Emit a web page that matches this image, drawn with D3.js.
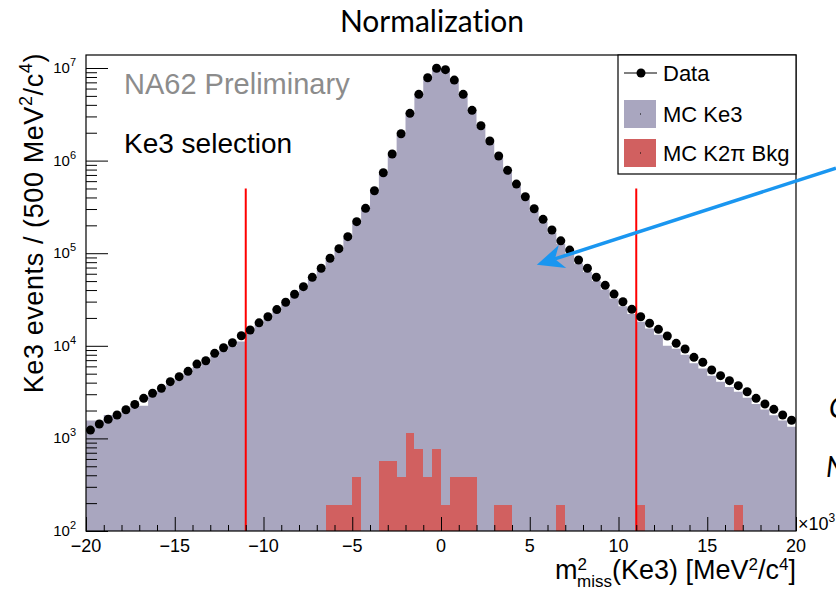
<!DOCTYPE html>
<html>
<head>
<meta charset="utf-8">
<script src="https://cdn.jsdelivr.net/npm/d3@7"></script>
<style>
  html, body { margin: 0; padding: 0; background: #fff; }
  svg { display: block; }
</style>
</head>
<body>
<svg id="chart" width="836" height="592"></svg>
<script>
// Missing-mass-squared histograms, 80 bins of 500 MeV^2/c^4 from -20e3 to 20e3
const binEdges = d3.range(-20, 20.0001, 0.5);

// Data (events per bin)
const dataCounts = [
  1230, 1430, 1610, 1790, 2040, 2330, 2710, 3070, 3480, 4100,
  4640, 5300, 6350, 6900, 8290, 9530, 10800, 12850, 14800, 17700,
  20600, 24600, 29500, 36000, 43500, 54900, 68700, 88100, 112000, 151000,
  219000, 305000, 473000, 740000, 1180000, 1950000, 3240000, 5200000, 7860000, 9930000,
  9600000, 7400000, 5200000, 3490000, 2380000, 1630000, 1120000, 785000, 558000, 407000,
  302000, 232000, 178000, 136000, 108000, 84500, 68700, 55000, 45000, 36200,
  29900, 24770, 20600, 17500, 15070, 12760, 10640, 9230, 7510, 6640,
  5480, 4760, 4200, 3710, 3190, 2710, 2350, 2060, 1790, 1570
];

// MC Ke3 prediction
const mcKe3 = [
  1560, 1560, 1790, 1780, 1980, 2250, 2250, 2900, 3300, 3850,
  4400, 5050, 5900, 6500, 7700, 8900, 10100, 11100, 14000, 16800,
  19600, 23500, 28200, 34500, 41800, 52500, 66000, 84500, 108000, 145000,
  210000, 294000, 455000, 715000, 1140000, 1890000, 3150000, 5050000, 7650000, 9700000,
  9400000, 7200000, 5050000, 3380000, 2300000, 1570000, 1070000, 750000, 530000, 385000,
  285000, 218000, 166000, 126000, 99500, 77500, 62500, 50000, 40500, 32500,
  26800, 22000, 18200, 15400, 13200, 10000, 9300, 8000, 6500, 5700,
  4750, 4100, 3600, 3200, 2750, 2350, 2050, 1780, 1560, 1340
];

// MC K2pi background
const mcK2pi = [
  0, 0, 0, 0, 0, 0, 0, 0, 0, 0,
  0, 0, 0, 0, 0, 0, 0, 0, 0, 0,
  0, 0, 0, 0, 0, 0, 0, 190, 190, 190,
  385, 0, 0, 575, 575, 385, 1150, 770, 385, 770,
  190, 385, 385, 385, 0, 0, 190, 190, 0, 0,
  0, 0, 0, 190, 0, 0, 0, 0, 0, 0,
  0, 0, 190, 0, 0, 0, 0, 0, 0, 0,
  0, 0, 0, 190, 0, 0, 0, 0, 0, 0
];

const xMajorTicks = [-20, -15, -10, -5, 0, 5, 10, 15, 20];
const xTickLabels = ["\u221220", "\u221215", "\u221210", "\u22125", "0", "5", "10", "15", "20"];
const yDecades = [1e2, 1e3, 1e4, 1e5, 1e6, 1e7];
const yExponents = ["2", "3", "4", "5", "6", "7"];
const cutValues = [-11, 11];
const cutRange = [1e2, 5e5];

const legendItems = [
  { label: "Data", kind: "marker" },
  { label: "MC Ke3", kind: "box", color: "#a9a6bf" },
  { label: "MC K2\u03c0 Bkg", kind: "box", color: "#d16060" }
];

const colKe3 = "#a9a6bf";
const colK2pi = "#d16060";
const rootFont = "'Liberation Sans', Arial, Helvetica, sans-serif";

const svg = d3.select("#chart");
const plot = { left: 86, right: 796, top: 55, bottom: 531 };

const x = d3.scaleLinear().domain([-20, 20]).range([plot.left, plot.right]);
const y = d3.scaleLog().domain([100, 1.382e7]).range([plot.bottom, plot.top]);

// slide title
svg.append("text")
  .attr("x", 432).attr("y", 32)
  .attr("text-anchor", "middle")
  .attr("font-family", "Lato, 'Open Sans', sans-serif")
  .attr("font-size", 30)
  .style("font-variant-ligatures", "none")
  .attr("fill", "#000")
  .text("Normalization");

const g = svg.append("g").attr("font-family", rootFont);

g.append("defs").append("clipPath").attr("id", "plotClip")
  .append("rect")
  .attr("x", plot.left).attr("y", plot.top)
  .attr("width", plot.right - plot.left).attr("height", plot.bottom - plot.top);

const inner = g.append("g").attr("clip-path", "url(#plotClip)");

// MC Ke3 filled histogram as one stepped area
const stepPts = [];
mcKe3.forEach((v, i) => {
  stepPts.push([binEdges[i], v]);
  stepPts.push([binEdges[i + 1], v]);
});
inner.append("path")
  .datum(stepPts)
  .attr("fill", colKe3)
  .attr("d", d3.area()
    .x(d => x(d[0]))
    .y0(plot.bottom)
    .y1(d => y(d[1])));

// MC K2pi background bins
inner.selectAll("rect.k2pi")
  .data(mcK2pi.map((v, i) => ({ v, lo: binEdges[i], hi: binEdges[i + 1] })).filter(d => d.v > 0))
  .join("rect")
  .attr("class", "k2pi")
  .attr("x", d => x(d.lo))
  .attr("width", d => x(d.hi) - x(d.lo))
  .attr("y", d => y(d.v))
  .attr("height", d => plot.bottom - y(d.v))
  .attr("fill", colK2pi)
  .attr("shape-rendering", "crispEdges");

// selection cuts
inner.selectAll("line.cut")
  .data(cutValues)
  .join("line")
  .attr("class", "cut")
  .attr("x1", d => x(d)).attr("x2", d => x(d))
  .attr("y1", y(cutRange[0])).attr("y2", y(cutRange[1]))
  .attr("stroke", "#ff0000")
  .attr("stroke-width", 2);

// data points
inner.selectAll("circle.data")
  .data(dataCounts.map((v, i) => ({ v, c: (binEdges[i] + binEdges[i + 1]) / 2 })))
  .join("circle")
  .attr("class", "data")
  .attr("cx", d => x(d.c))
  .attr("cy", d => y(d.v))
  .attr("r", 4.5)
  .attr("fill", "#000");

// x axis: major and minor ticks pointing inside
const xMinor = d3.range(-20, 20.0001, 1).filter(v => v % 5 !== 0);
g.append("g")
  .attr("transform", `translate(0,${plot.bottom})`)
  .call(d3.axisBottom(x).tickValues(xMinor).tickSize(-6).tickFormat(""))
  .call(s => s.select(".domain").remove())
  .call(s => s.selectAll("line").attr("stroke", "#000"));
g.append("g")
  .attr("transform", `translate(0,${plot.bottom})`)
  .call(d3.axisBottom(x).tickValues(xMajorTicks).tickSize(-14).tickFormat(""))
  .call(s => s.select(".domain").remove())
  .call(s => s.selectAll("line").attr("stroke", "#000"));

g.selectAll("text.xlab")
  .data(xMajorTicks)
  .join("text")
  .attr("class", "xlab")
  .attr("x", d => x(d))
  .attr("y", 552)
  .attr("text-anchor", "middle")
  .attr("font-size", 18)
  .text((d, i) => xTickLabels[i]);

// y axis: decades and minor ticks
const yMinor = [];
yDecades.forEach(dec => {
  for (let k = 2; k <= 9; k++) {
    const v = dec * k;
    if (v <= y.domain()[1]) yMinor.push(v);
  }
});
g.append("g")
  .attr("transform", `translate(${plot.left},0)`)
  .call(d3.axisLeft(y).tickValues(yMinor).tickSize(-11).tickFormat(""))
  .call(s => s.select(".domain").remove())
  .call(s => s.selectAll("line").attr("stroke", "#000"));
g.append("g")
  .attr("transform", `translate(${plot.left},0)`)
  .call(d3.axisLeft(y).tickValues(yDecades).tickSize(-22).tickFormat(""))
  .call(s => s.select(".domain").remove())
  .call(s => s.selectAll("line").attr("stroke", "#000"));

const ylab = g.selectAll("text.ylab")
  .data(yDecades)
  .join("text")
  .attr("class", "ylab")
  .attr("x", 76)
  .attr("y", d => y(d) + 5)
  .attr("text-anchor", "end")
  .attr("font-size", 15);
ylab.append("tspan").text("10");
ylab.append("tspan").attr("font-size", 11).attr("dy", -7).text((d, i) => yExponents[i]);

// frame
g.append("rect")
  .attr("x", plot.left).attr("y", plot.top)
  .attr("width", plot.right - plot.left).attr("height", plot.bottom - plot.top)
  .attr("fill", "none").attr("stroke", "#000").attr("stroke-width", 1.2);

// x10^3 multiplier
const mult = g.append("text")
  .attr("x", 798).attr("y", 530)
  .attr("font-size", 18);
mult.append("tspan").text("\u00d710");
mult.append("tspan").attr("font-size", 12).attr("dy", -8).text("3");

// axis titles
const xt = g.append("text")
  .attr("x", plot.right).attr("y", 579)
  .attr("text-anchor", "end")
  .attr("font-size", 27);
xt.append("tspan").text("m");
xt.append("tspan").attr("font-size", 17).attr("dy", -9.5).text("2");
xt.append("tspan").attr("font-size", 17).attr("dx", -10).attr("dy", 17.5).text("miss");
xt.append("tspan").attr("dy", -8).text("(Ke3) [MeV");
xt.append("tspan").attr("font-size", 17).attr("dy", -9.5).text("2");
xt.append("tspan").attr("dy", 9.5).text("/c");
xt.append("tspan").attr("font-size", 17).attr("dy", -9.5).text("4");
xt.append("tspan").attr("dy", 9.5).text("]");

const yt = g.append("text")
  .attr("transform", `translate(43,${plot.top - 2}) rotate(-90)`)
  .attr("text-anchor", "end")
  .attr("font-size", 27)
  .attr("letter-spacing", 0.6);
yt.append("tspan").text("Ke3 events / (500 MeV");
yt.append("tspan").attr("font-size", 18).attr("dy", -11).text("2");
yt.append("tspan").attr("dy", 11).text("/c");
yt.append("tspan").attr("font-size", 18).attr("dy", -11).text("4");
yt.append("tspan").attr("dy", 11).text(")");

// labels inside the frame
g.append("text")
  .attr("x", 124).attr("y", 94)
  .attr("font-size", 29)
  .attr("fill", "#8c8c8c")
  .text("NA62 Preliminary");
g.append("text")
  .attr("x", 124).attr("y", 153)
  .attr("font-size", 28)
  .attr("fill", "#000")
  .text("Ke3 selection");

// legend
const leg = g.append("g");
leg.append("rect")
  .attr("x", 618).attr("y", plot.top)
  .attr("width", plot.right - 618).attr("height", 119)
  .attr("fill", "#fff").attr("stroke", "#000").attr("stroke-width", 1.2);
const legRows = [73, 114, 153];
legendItems.forEach((it, i) => {
  const cy = legRows[i];
  if (it.kind === "marker") {
    leg.append("line").attr("x1", 624).attr("x2", 657).attr("y1", cy).attr("y2", cy)
      .attr("stroke", "#000").attr("stroke-width", 1);
    leg.append("circle").attr("cx", 641).attr("cy", cy).attr("r", 4.5).attr("fill", "#000");
  } else {
    leg.append("rect").attr("x", 624).attr("y", cy - 14).attr("width", 32).attr("height", 28)
      .attr("fill", it.color);
    leg.append("rect").attr("x", 640).attr("y", cy - 0.5).attr("width", 1).attr("height", 1)
      .attr("fill", "#000");
  }
  leg.append("text")
    .attr("x", 663).attr("y", cy + 8)
    .attr("font-size", 22)
    .text(it.label);
});

// annotation arrow pointing into the Ke3 distribution
const tail = [x(22.25), y(8.3e5)];
const tip = [x(5.4), y(7.5e4)];
const dx = tip[0] - tail[0], dy = tip[1] - tail[1];
const len = Math.hypot(dx, dy);
const ux = dx / len, uy = dy / len, nx = -uy, ny = ux;
const headL = 27, headW = 12, notch = 19;
svg.append("line")
  .attr("x1", tail[0]).attr("y1", tail[1])
  .attr("x2", tip[0] - ux * notch).attr("y2", tip[1] - uy * notch)
  .attr("stroke", "#1a96f0").attr("stroke-width", 3.5);
svg.append("path")
  .attr("d", `M${tip[0]},${tip[1]}
              L${tip[0] - ux * headL + nx * headW},${tip[1] - uy * headL + ny * headW}
              L${tip[0] - ux * notch},${tip[1] - uy * notch}
              L${tip[0] - ux * headL - nx * headW},${tip[1] - uy * headL - ny * headW}Z`)
  .attr("fill", "#1a96f0");

// neighbouring slide text at the right edge
svg.append("text")
  .attr("x", 829).attr("y", 418)
  .attr("font-family", "Lato, sans-serif").attr("font-style", "italic")
  .attr("font-size", 28).text("C");
svg.append("text")
  .attr("x", 826).attr("y", 477)
  .attr("font-family", "Lato, sans-serif").attr("font-style", "italic")
  .attr("font-size", 28).text("N");
</script>
</body>
</html>
